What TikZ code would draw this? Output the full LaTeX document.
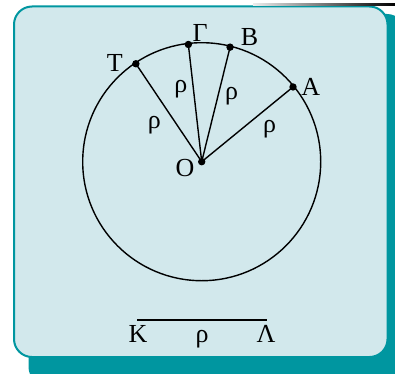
\documentclass[tikz,border=0pt]{standalone}
\usepackage{fontspec}
\setmainfont{Liberation Serif}
\definecolor{panelblue}{RGB}{210,232,236}
\definecolor{panelteal}{RGB}{0,150,160}
\newcommand{\ptdot}[1]{\fill (#1) circle(3.7);}
\tikzset{
  lbl/.style={font=\fontsize{26}{30}\selectfont, inner sep=0pt},
  rline/.style={line width=1.4pt},
}

\begin{document}
\begin{tikzpicture}[x=1pt,y=1pt]
\useasboundingbox (0,0) rectangle (395,373);
\clip (0,0) rectangle (395,373);
% panel with its shadow
\fill[panelteal, rounded corners=18] (28.5,-12) rectangle (405,359);
\filldraw[fill=panelblue, draw=panelteal, line width=2pt, rounded corners=18] (14,16) rectangle (387.5,366.5);
\shade[left color=gray!15, right color=black] (253,367.8) rectangle (395,369.6);
% circle and radii
\coordinate (O) at (201.7,211.3);
\coordinate (A) at ([shift={(39.3:118)}]O);
\coordinate (B) at ([shift={(76.1:118)}]O);
\coordinate (G) at ([shift={(96.5:118)}]O);
\coordinate (T) at ([shift={(123.9:118)}]O);
\draw[rline] (O) circle(119);
\draw[rline] (O) -- (A) node[lbl, pos=0.62, xshift=11.2, yshift=-13.7] (rA) {ρ};
\draw[rline] (O) -- (B) node[lbl, pos=0.57, xshift=13.7] (rB) {ρ};
\draw[rline] (O) -- (G) node[lbl, pos=0.62, xshift=-12.5] (rG) {ρ};
\draw[rline] (O) -- (T) node[lbl, pos=0.48, xshift=-15.7, yshift=-10.2] (rT) {ρ};
\ptdot{O}\ptdot{A}\ptdot{B}\ptdot{G}\ptdot{T}
\node[lbl] (Ol) at ([shift={(-16.7,-6.3)}]O) {Ο};
\node[lbl] (Al) at ([shift={(17.8,0)}]A) {Α};
\node[lbl] (Bl) at ([shift={(19.5,9.8)}]B) {Β};
\node[lbl] (Gl) at ([shift={(11.7,11.8)}]G) {Γ};
\node[lbl] (Tl) at ([shift={(-21,0.5)}]T) {Τ};
% segment KL
\coordinate (K) at (137,53);
\coordinate (L) at (267,53);
\draw[rline] (K) -- (L) node[lbl, midway, anchor=base, yshift=-22] (rKL) {ρ};
\node[lbl, anchor=base] (Kl) at ([shift={(1,-22)}]K) {Κ};
\node[lbl, anchor=base] (Ll) at ([shift={(-1,-22)}]L) {Λ};
\end{tikzpicture}
\end{document}
